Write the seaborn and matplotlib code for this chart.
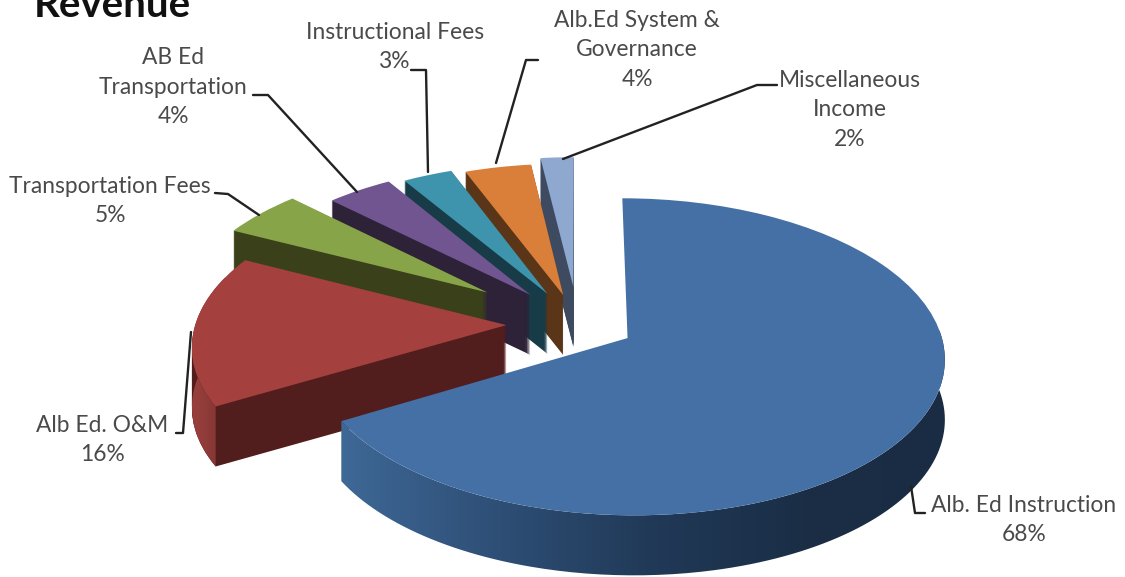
import numpy as np
import matplotlib
matplotlib.use("Agg")
import matplotlib.pyplot as plt
from matplotlib.path import Path
from matplotlib.transforms import Affine2D, Transform
import seaborn as sns

categories = ["Alb. Ed Instruction", "Alb Ed. O&M", "Transportation Fees", "AB Ed Transportation",
              "Instructional Fees", "Alb.Ed System & Governance", "Miscellaneous Income"]
shares = [68, 16, 5, 4, 3, 4, 2]
explode = [0.182, 0.23, 0.365, 0.25, 0.225, 0.2, 0.25]

label_texts = ["Alb. Ed Instruction\n68%", "Alb Ed. O&M\n16%", "Transportation Fees\n5%",
               "AB Ed\nTransportation\n4%", "Instructional Fees\n3%",
               "Alb.Ed System &\nGovernance\n4%", "Miscellaneous\nIncome\n2%"]
label_xy = [(1024, 520), (102, 440), (110, 201), (173, 87), (395, 47), (637, 50), (850, 110)]
leaders = [
    [(925, 513), (915, 513), (911, 486)],
    [(176, 433), (183, 433), (191, 332)],
    [(215, 193), (228, 194), (259, 215)],
    [(253, 95), (268, 95), (357, 192)],
    [(411, 70), (426, 70), (428, 172)],
    [(538, 60), (526, 60), (496, 163)],
    [(777, 85), (757, 85), (563, 159)],
]

top_colors = ["#4570a6", "#a4403d", "#87a548", "#715590", "#3e94ad", "#d97f3a", "#8fa8cf"]
side_colors = ["#1a2e46", "#521e1d", "#3a401a", "#2d2238", "#173c48", "#5a3517", "#3d4a60"]
draw_rank = [6, 5, 4, 3, 2, 1, 0]

CX, CY = 578, 324
RX, RY = 311, 153
TILT = 0.117
DEPTH = 60


class TiltPie(Transform):
    input_dims = 2
    output_dims = 2

    def transform_non_affine(self, values):
        x, y = values[:, 0], values[:, 1]
        s = 1 / (1 + TILT * y)
        return np.column_stack([CX + RX * x * s, CY - RY * y * s])


sns.set_theme(style="white")
plt.rcParams['font.family'] = ['Lato', 'DejaVu Sans']

fig, ax = plt.subplots(figsize=(11.25, 5.77), dpi=100)
fig.subplots_adjust(left=0, right=1, top=1, bottom=0)
tilt = TiltPie()


def draw_layer(colors, drop, z):
    wedges, _ = ax.pie(shares, colors=sns.color_palette(colors), explode=explode, startangle=90,
                       counterclock=False, radius=1, wedgeprops={"linewidth": 0})
    for w, rank in zip(wedges, draw_rank):
        w.set_transform(tilt + Affine2D().translate(0, drop) + ax.transData)
        w.set_zorder(rank * 1000 + z)
    return wedges


for d in range(DEPTH, 0, -1):
    layer = draw_layer(side_colors, d, DEPTH - d)
    # the big slice only shows its shaded rim
    layer[0].set_visible(False)
top = draw_layer(top_colors, 0, 900)


# outer rim with the left to right shading of the two front slices
def rim(i, stops, x0, x1, front_end):
    w = top[i]
    t = np.radians(np.linspace(w.theta1, min(w.theta2, front_end), 200))
    arc = np.column_stack([w.center[0] + np.cos(t), w.center[1] + np.sin(t)])
    upper = tilt.transform(arc)
    lower = upper[::-1] + [0, DEPTH]
    outline = Path(np.vstack([upper, lower, upper[:1]]))
    cmap = sns.blend_palette(stops, as_cmap=True)
    im = ax.imshow(np.linspace(0, 1, 256)[None, :], cmap=cmap, aspect="auto",
                   extent=(x0, x1, 577, 0), zorder=draw_rank[i] * 1000 + 500)
    im.set_clip_path(outline, transform=ax.transData)


rim(0, ["#3f6a98", "#2f5078", "#213a58", "#1a2e46", "#1a2c44"], 330, 960, 3)
rim(1, ["#963f3d", "#963f3d", "#7f3331"], 170, 225, 360)

ax.set_xlim(0, 1125)
ax.set_ylim(577, 0)
ax.set_aspect("auto")
ax.axis("off")

for pts in leaders:
    xs, ys = zip(*pts)
    ax.plot(xs, ys, color="#222222", lw=1.7, zorder=9000, solid_capstyle="round")

for txt, (x, y) in zip(label_texts, label_xy):
    ax.text(x, y, txt, ha="center", va="center", fontsize=16.4, color="#4a4a4a",
            linespacing=1.52, zorder=9500)

ax.text(34, 17, "Revenue", ha="left", va="baseline", fontsize=29, fontweight="bold",
        color="#111111", zorder=9500)

fig.savefig("out.png", dpi=100)
